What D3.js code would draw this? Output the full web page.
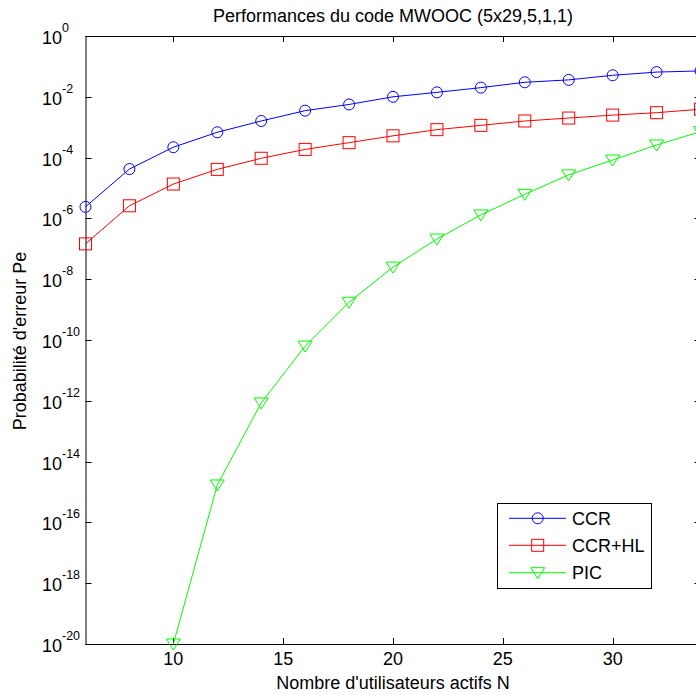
<!DOCTYPE html>
<html><head><meta charset="utf-8">
<script src="https://cdn.jsdelivr.net/npm/d3@7"></script>
<style>body{margin:0;background:#fff}svg{display:block}text{font-family:"Liberation Sans",Arial,sans-serif;fill:#000}</style>
</head><body>
<script>
const xValues = [6,8,10,12,14,16,18,20,22,24,26,28,30,32,34];
const ccr = [2.4e-6,4.2e-5,2.2e-4,6.8e-4,1.6e-3,3.5e-3,5.6e-3,1.0e-2,1.4e-2,2.0e-2,3.0e-2,3.6e-2,5.1e-2,6.5e-2,7.1e-2];
const ccrHL = [1.45e-7,2.6e-6,1.35e-5,4.1e-5,9.5e-5,1.86e-4,3.1e-4,5.2e-4,8.3e-4,1.15e-3,1.6e-3,2.0e-3,2.5e-3,3.0e-3,3.9e-3];
const picX = [10,12,14,16,18,20,22,24,26,28,30,32,34];
const pic = [1e-20,1.7e-15,8.5e-13,6.3e-11,1.74e-9,2.5e-8,2.1e-7,1.3e-6,6.2e-6,2.7e-5,8.3e-5,2.6e-4,7.1e-4];
const xTicks = [10,15,20,25,30];
const yTickExps = [0,-2,-4,-6,-8,-10,-12,-14,-16,-18,-20];
const seriesNames = ["CCR","CCR+HL","PIC"];
const colors = ["#0000ff","#ff0000","#00ff00"];
const title = "Performances du code MWOOC (5x29,5,1,1)";
const xLabel = "Nombre d'utilisateurs actifs N";
const yLabel = "Probabilité d'erreur Pe";

const W = 696, H = 695;
const L = 85.5, R = 700.5, T = 36, B = 644;
const svg = d3.select("body").append("svg").attr("width", W).attr("height", H);
const x = d3.scaleLinear().domain([6,34]).range([L,R]);
const y = d3.scaleLog().domain([1e-20,1]).range([B,T]);

// box
const ax = svg.append("g").attr("stroke","#000").attr("stroke-width",1).attr("fill","none");
ax.append("line").attr("x1",L).attr("x2",R).attr("y1",B+0.5).attr("y2",B+0.5);
ax.append("line").attr("x1",L).attr("x2",R).attr("y1",T+0.5).attr("y2",T+0.5);
ax.append("line").attr("x1",L+0.5).attr("x2",L+0.5).attr("y1",T).attr("y2",B+1);
ax.append("line").attr("x1",R-0.5).attr("x2",R-0.5).attr("y1",T).attr("y2",B+1);
const tl = 6;
xTicks.forEach(t => {
  const px = Math.round(x(t)) + 0.5;
  ax.append("line").attr("x1",px).attr("x2",px).attr("y1",B).attr("y2",B-tl);
  ax.append("line").attr("x1",px).attr("x2",px).attr("y1",T).attr("y2",T+tl);
  svg.append("text").attr("x",x(t)).attr("y",B+21).attr("text-anchor","middle")
    .style("font-size","18px").text(t);
});
yTickExps.forEach(e => {
  const py = Math.round(y(Math.pow(10,e))) + 0.5;
  ax.append("line").attr("x1",L).attr("x2",L+tl).attr("y1",py).attr("y2",py);
  ax.append("line").attr("x1",R).attr("x2",R-tl).attr("y1",py).attr("y2",py);
  svg.append("text").attr("x",62).attr("y",py+7.5).attr("text-anchor","end")
    .style("font-size","18px").text("10");
  svg.append("text").attr("x",62).attr("y",py-5).attr("text-anchor","start")
    .style("font-size","12.5px").text(e);
});

// lines & markers
const series = [
  {xs:xValues, ys:ccr, c:colors[0], m:"circle"},
  {xs:xValues, ys:ccrHL, c:colors[1], m:"square"},
  {xs:picX, ys:pic, c:colors[2], m:"triangle"}
];
const line = d3.line().x(d=>x(d[0])).y(d=>y(d[1]));
function marker(g, m, cx, cy, c){
  if(m==="circle") g.append("circle").attr("cx",cx).attr("cy",cy).attr("r",5.5).style("fill","none").style("stroke",c);
  else if(m==="square") g.append("rect").attr("x",cx-6).attr("y",cy-6).attr("width",12).attr("height",12).style("fill","none").style("stroke",c);
  else g.append("path").attr("d",`M${cx-7},${cy-5}L${cx+7},${cy-5}L${cx},${cy+6}Z`).style("fill","none").style("stroke",c);
}
series.forEach(s => {
  const pts = s.xs.map((v,i)=>[v,s.ys[i]]);
  svg.append("path").attr("d",line(pts)).style("fill","none").style("stroke",s.c).style("stroke-width",1);
  const g = svg.append("g");
  pts.forEach(p => marker(g, s.m, x(p[0]), y(p[1]), s.c));
});

// legend
svg.append("rect").attr("x",497.5).attr("y",503.5).attr("width",154).attr("height",85)
  .style("fill","#fff").style("stroke","#000");
const ly = [518.3,545.3,572.7];
seriesNames.forEach((n,i) => {
  const lg = svg.append("g");
  lg.append("path").attr("d",`M509,${ly[i]}H566`).style("stroke",colors[i]).style("stroke-width",1).style("fill","none");
  marker(lg, series[i].m, 537.7, ly[i], colors[i]);
  svg.append("text").attr("x",572).attr("y",ly[i]+6.5).style("font-size","18px").text(n);
});

// titles
svg.append("text").attr("x",(L+R)/2).attr("y",22).attr("text-anchor","middle").style("font-size","18px").text(title);
svg.append("text").attr("x",(L+R)/2).attr("y",689).attr("text-anchor","middle").style("font-size","18px").text(xLabel);
svg.append("text").attr("transform","translate(26,341) rotate(-90)").attr("text-anchor","middle").style("font-size","18px").text(yLabel);
</script>
</body></html>
